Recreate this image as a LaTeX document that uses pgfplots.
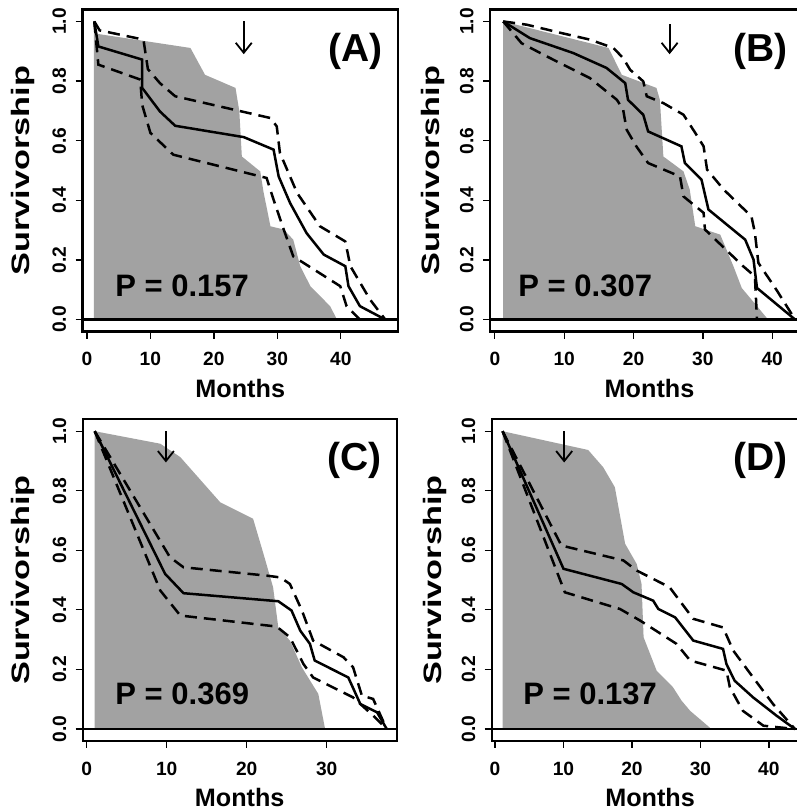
\documentclass[border=0pt]{standalone}
\usepackage{pgfplots}
\pgfplotsset{compat=1.18}
\usepackage{graphicx}
\usepackage{fontspec}
\setmainfont{Liberation Sans}
\usetikzlibrary{arrows.meta}
\definecolor{shade}{RGB}{162,162,162}

\pgfplotsset{
  surv/.style={
    scale only axis,
    ymin=-0.04, ymax=1.04,
    ytick={0,0.2,0.4,0.6,0.8,1.0},
    yticklabels={0.0,0.2,0.4,0.6,0.8,1.0},
    xtick={0,10,20,30,40},
    tick align=outside,
    tick pos=left,
    major tick length=3.5pt,
    axis line style={line width=1.1pt},
    every tick/.style={black, line width=0.6pt},
    /pgf/number format/assume math mode=true,
    ticklabel style={font=\fontsize{9.6}{10}\selectfont\bfseries},
    xticklabel style={anchor=north, inner sep=0pt},
    xticklabel shift=6.8pt,
    yticklabel style={rotate=90, anchor=south, inner sep=0pt},
    yticklabel shift=4.5pt,
    xlabel={Months},
    ylabel={\scalebox{1.36}[1]{Survivorship}},
    label style={font=\fontsize{12.6}{13}\selectfont\bfseries},
    xlabel style={at={(axis description cs:0.5,-0.204)}, anchor=base},
  },
  ci/.style={black, line width=1.25pt, dash pattern=on 6pt off 3.5pt},
  est/.style={black, line width=1.25pt},
  obs/.style={fill=shade, draw=none},
  zero/.style={black, line width=1.1pt},
}
\tikzset{
  arrowmark/.style={black, line width=0.9pt, -{Straight Barb[length=5pt,width=8pt]}},
  paneltag/.style={font=\fontsize{19.5}{20}\selectfont\bfseries, inner sep=0pt},
  pval/.style={font=\fontsize{15.5}{16}\selectfont\bfseries, inner sep=0pt, anchor=base west},
}

\begin{document}
\begin{tikzpicture}

% ---------------- (A) ----------------
\begin{axis}[surv, at={(41.25pt,-4.75pt)}, anchor=north west,
  width=157.75pt, height=161pt, xmin=-0.7, xmax=49,
  ylabel style={at={(axis description cs:-0.189,0.5)}, anchor=center}]
\addplot[obs] coordinates {(1.1,0) (1.1,0.96) (16.3,0.911) (18.6,0.821) (23.4,0.777)
  (24.0,0.70) (24.4,0.547) (27.3,0.497) (27.8,0.43) (28.9,0.313) (31.0,0.302)
  (32.5,0.268) (33.6,0.179) (35.2,0.112) (38.3,0.045) (39.4,0)} \closedcycle;
\addplot[est] coordinates {(1.15,1.0) (1.8,0.916) (8.7,0.872) (8.7,0.777) (11.5,0.698)
  (13.9,0.65) (24.7,0.612) (29.4,0.57) (30.2,0.48) (32.0,0.391) (34.6,0.29)
  (37.3,0.218) (40.7,0.179) (41.2,0.112) (43.0,0.045) (47.0,0)};
\addplot[ci] coordinates {(1.15,1.0) (2.0,0.97) (8.9,0.939) (9.6,0.84) (11.5,0.793)
  (13.9,0.749) (28.9,0.676) (29.9,0.648) (30.4,0.559) (33.1,0.425) (36.7,0.313)
  (40.7,0.262) (41.5,0.179) (44.6,0.067) (47.0,0)};
\addplot[ci] coordinates {(1.15,1.0) (1.8,0.855) (8.4,0.805) (8.7,0.72) (10.0,0.626)
  (13.6,0.553) (28.3,0.475) (29.4,0.402) (31.0,0.302) (32.5,0.212) (39.9,0.112)
  (40.9,0.045) (43.0,0)};
\addplot[zero] coordinates {(-0.7,0) (49,0)};
\draw[arrowmark] (axis cs:24.7,1.0) -- (axis cs:24.7,0.89);
\node[paneltag, anchor=east] at (axis description cs:0.952,0.871) {(A)};
\node[pval] at (axis description cs:0.103,0.108) {P = 0.157};
\end{axis}

% ---------------- (B) ----------------
\begin{axis}[surv, at={(245pt,-4.75pt)}, anchor=north west,
  width=159.5pt, height=161pt, xmin=-0.7, xmax=45.3,
  ylabel style={at={(axis description cs:-0.178,0.5)}, anchor=center}]
\addplot[obs] coordinates {(1.2,0) (1.2,1.0) (16.4,0.911) (18.3,0.821) (23.3,0.777)
  (23.8,0.737) (24.3,0.547) (27.2,0.497) (28.1,0.436) (28.9,0.313) (32.5,0.285)
  (34.4,0.179) (35.6,0.106) (37.8,0.045) (39.4,0)} \closedcycle;
\addplot[est] coordinates {(1.2,1.0) (5.05,0.944) (11.3,0.894) (16.1,0.844) (18.8,0.793)
  (19.2,0.737) (21.4,0.687) (22.1,0.631) (26.9,0.581) (27.4,0.525) (29.8,0.469)
  (30.8,0.369) (36.1,0.268) (37.3,0.201) (37.8,0.106) (43.3,0)};
\addplot[ci] coordinates {(1.2,1.0) (4.6,0.989) (9.6,0.961) (13.7,0.939) (17.1,0.911)
  (18.5,0.877) (19.5,0.838) (21.4,0.799) (21.9,0.749) (24.3,0.726) (27.2,0.687)
  (28.9,0.626) (30.1,0.581) (30.6,0.503) (33.0,0.436) (37.0,0.346) (37.5,0.291)
  (38.0,0.19) (40.6,0.1) (43.3,0)};
\addplot[ci] coordinates {(1.2,1.0) (3.85,0.927) (7.46,0.883) (13.7,0.81) (17.6,0.737)
  (18.5,0.704) (19.0,0.637) (20.4,0.581) (22.1,0.525) (26.7,0.48) (27.2,0.413)
  (30.1,0.358) (30.3,0.302) (35.8,0.179) (37.5,0.145) (37.8,0)};
\addplot[zero] coordinates {(-0.7,0) (45.3,0)};
\draw[arrowmark] (axis cs:25.2,0.99) -- (axis cs:25.2,0.89);
\node[paneltag, anchor=east] at (axis description cs:0.934,0.871) {(B)};
\node[pval] at (axis description cs:0.088,0.108) {P = 0.307};
\end{axis}

% ---------------- (C) ----------------
\begin{axis}[surv, at={(41.35pt,-209.65pt)}, anchor=north west,
  width=157pt, height=160.8pt, xmin=-0.5, xmax=38.75,
  ylabel style={at={(axis description cs:-0.19,0.5)}, anchor=center}]
\addplot[obs] coordinates {(1,0) (1,1.0) (9.2,0.958) (11.7,0.913) (16.7,0.761)
  (20.8,0.706) (22.1,0.588) (23.3,0.476) (23.95,0.341) (25.4,0.297) (26.9,0.207)
  (28.95,0.118) (29.8,0)} \closedcycle;
\addplot[est] coordinates {(1,1.0) (9.8,0.521) (12.1,0.456) (23.95,0.429) (25.6,0.398)
  (26.7,0.33) (27.9,0.286) (28.5,0.23) (32.7,0.173) (34.2,0.084) (36.3,0.056) (37.5,0)};
\addplot[ci] coordinates {(1,1.0) (10.4,0.577) (12.1,0.543) (22.5,0.515) (24.2,0.509)
  (25.4,0.487) (26.9,0.398) (28.3,0.297) (32.1,0.241) (33.3,0.207) (34.4,0.112)
  (35.8,0.101) (37.5,0)};
\addplot[ci] coordinates {(1,1.0) (9.2,0.465) (11.7,0.381) (23.75,0.344) (25.4,0.308)
  (27.1,0.218) (28.3,0.173) (33.3,0.106) (35.8,0.045) (37.5,0)};
\addplot[zero] coordinates {(-0.5,0) (38.75,0)};
\draw[arrowmark] (axis cs:9.9,1.0) -- (axis cs:9.9,0.895);
\node[paneltag, anchor=east] at (axis description cs:0.952,0.873) {(C)};
\node[pval] at (axis description cs:0.103,0.112) {P = 0.369};
\end{axis}

% ---------------- (D) ----------------
\begin{axis}[surv, at={(245.8pt,-209.65pt)}, anchor=north west,
  width=158.5pt, height=160.8pt, xmin=-0.5, xmax=45.8,
  ylabel style={at={(axis description cs:-0.18,0.5)}, anchor=center}]
\addplot[obs] coordinates {(1.1,0) (1.1,1.0) (13.6,0.937) (15.8,0.879) (17.5,0.812)
  (19.0,0.622) (20.7,0.554) (21.4,0.487) (21.7,0.308) (23.6,0.196) (26.0,0.14)
  (27.25,0.095) (28.5,0.061) (31.6,0)} \closedcycle;
\addplot[est] coordinates {(1.1,1.0) (10.0,0.538) (18.5,0.487) (20.2,0.459) (23.1,0.431)
  (23.85,0.403) (26.3,0.375) (28.95,0.297) (33.3,0.269) (33.8,0.218) (35.0,0.162)
  (37.7,0.106) (41.1,0.045) (43.8,0)};
\addplot[ci] coordinates {(1.1,1.0) (9.7,0.616) (18.75,0.566) (20.7,0.532) (25.5,0.476)
  (28.95,0.37) (33.3,0.341) (34.8,0.263) (37.7,0.173) (40.6,0.084) (43.8,0)};
\addplot[ci] coordinates {(1.1,1.0) (10.2,0.459) (18.25,0.403) (21.2,0.364) (26.5,0.286)
  (28.5,0.23) (33.8,0.196) (34.3,0.14) (36.2,0.061) (39.2,0.011) (43.8,0)};
\addplot[zero] coordinates {(-0.5,0) (45.8,0)};
\draw[arrowmark] (axis cs:10.1,1.0) -- (axis cs:10.1,0.895);
\node[paneltag, anchor=east] at (axis description cs:0.935,0.873) {(D)};
\node[pval] at (axis description cs:0.099,0.112) {P = 0.137};
\end{axis}

\pgfresetboundingbox
\useasboundingbox (0pt,0pt) rectangle (398pt,-406pt);
\end{tikzpicture}
\end{document}
